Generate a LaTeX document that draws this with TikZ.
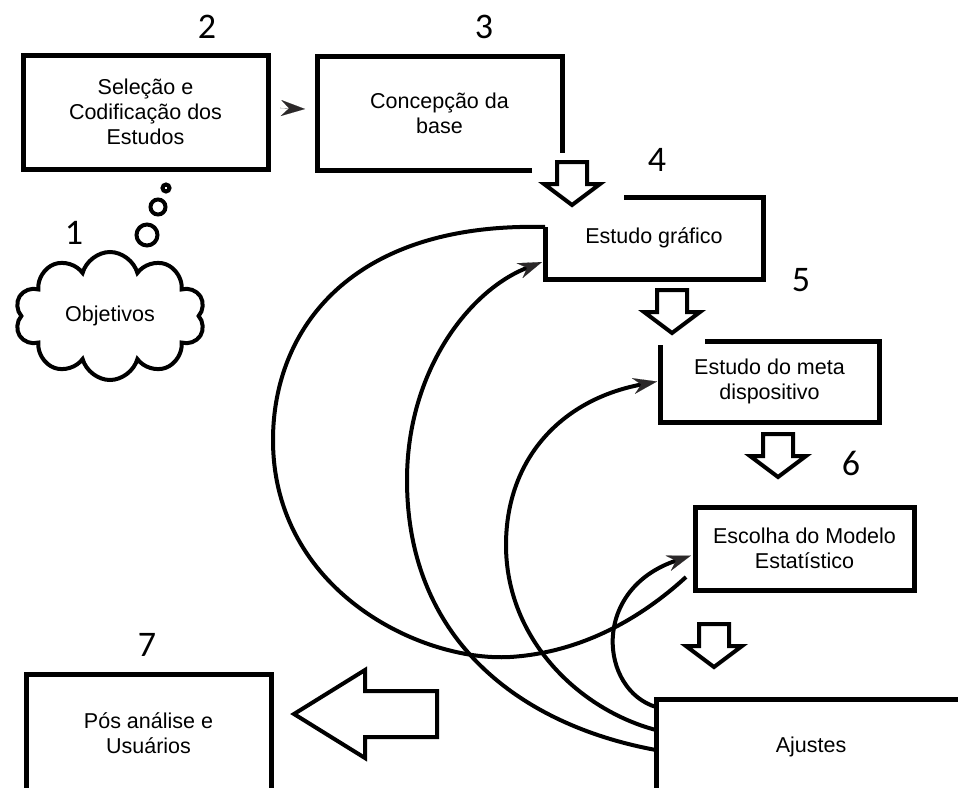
\documentclass[tikz,border=0pt]{standalone}
\usepackage{fontspec}
\setmainfont{Liberation Sans}
\newfontfamily\numfont{Carlito}
\usetikzlibrary{arrows.meta,shapes.symbols,calc}
\definecolor{tipgray}{HTML}{2B2829}

\tikzset{
  box/.style={draw, line width=5pt, outer sep=0pt, align=center, font=\fontsize{21.5}{25}\selectfont},
  openbox/.style={outer sep=0pt, align=center, font=\fontsize{21.5}{25}\selectfont},
  edge/.style={line width=5pt, line join=miter},
  back/.style={line width=4pt},
  tip/.style={-{Stealth[length=24pt,width=16pt,inset=8pt,line width=0.1pt,color=tipgray]}},
  hollow/.style={line width=4pt, line join=miter, fill=white},
  num/.style={inner sep=0pt, font=\numfont\fontsize{36}{36}\selectfont},
  downarr/.pic={\draw[hollow] (-15,0) -- (15,0) -- (15,22) -- (28,22) -- (0,43) -- (-28,22) -- (-15,22) -- cycle;}
}

\begin{document}
\begin{tikzpicture}[x=1pt, y=-1pt]
    \fill[white] (0,0) rectangle (958,787);
    \useasboundingbox (0,0) rectangle (958,787);

    % boxes
    \node[box, minimum width=245pt, minimum height=114pt] (sel) at (145.5,112) {Seleção e\\Codificação dos\\Estudos};
    \node[openbox, minimum width=245pt, minimum height=114pt] (conc) at (439.5,113) {Concepção da\\base};
    \node[openbox, minimum width=218pt, minimum height=82pt] (graf) at (654,238) {Estudo gráfico};
    \node[openbox, minimum width=219pt, minimum height=81pt] (meta) at (769.5,381.5) {Estudo do meta\\dispositivo};
    \node[box, minimum width=219pt, minimum height=83pt] (esc) at (804.5,548.5) {Escolha do Modelo\\Estatístico};
    \node[box, minimum width=310pt, minimum height=96pt, anchor=north west] (aj) at (656,699) {Ajustes};
    \node[box, minimum width=245pt, minimum height=118pt] (pos) at (148.5,733) {Pós análise e\\Usuários};

    \draw[edge] ([xshift=215pt]conc.south west) -- (conc.south west) -- (conc.north west) -- (conc.north east) -- ([yshift=17pt]conc.south east);
    \draw[edge] ([xshift=79pt]graf.north west) -- (graf.north east) -- (graf.south east) -- (graf.south west) -- ([yshift=-30pt]graf.north west);
    \draw[edge] ([xshift=45pt]meta.north west) -- (meta.north east) -- (meta.south east) -- (meta.south west) -- ([yshift=-4pt]meta.north west);

    % cloud
    \node[cloud, draw, line width=4pt, cloud puffs=10, aspect=1.45, minimum width=190pt, minimum height=128pt,
          font=\fontsize{21.5}{25}\selectfont] (obj) at (110,316) {Objetivos};
    \draw[back] (147,235) circle[radius=10.5pt];
    \draw[back] (158,207) circle[radius=7.5pt];
    \draw[back] (166,188) circle[radius=3.5pt];

    % numbers
    \node[num] (n1) at (74,233) {1};
    \node[num] (n2) at (207,27) {2};
    \node[num] (n3) at (484,27) {3};
    \node[num] (n4) at (657,160) {4};
    \node[num] (n5) at (801,280) {5};
    \node[num] (n6) at (851,463) {6};
    \node[num] (n7) at (147,645) {7};

    % flow
    \draw[tip, line width=0.1pt] ($(sel.east)+(12,-4)$) -- ($(conc.west)+(-12,-4)$);
    \pic at (572,162) {downarr};
    \pic at (672,290) {downarr};
    \pic at (778,434) {downarr};
    \pic at (714,624) {downarr};
    \draw[hollow] (437,691) -- (365,691) -- (365,670) -- (294,714) -- (365,758) -- (365,737) -- (437,737) -- cycle;

    % loops back from Ajustes
    \draw[back] ([yshift=-30pt]graf.north west) .. controls (350,222) and (273,330) .. (273,440)
        .. controls (273,590) and (420,662) .. (510,657)
        .. controls (590,652) and (650,610) .. ([xshift=-9pt,yshift=13pt]esc.south west);
    \draw[back, tip] ([yshift=-51pt]aj.north west) .. controls (520,725) and (407,640) .. (407,480)
        .. controls (407,370) and (470,290) .. ([xshift=-3pt,yshift=-24pt]graf.west);
    \draw[back, tip] ([yshift=-31pt]aj.north west) .. controls (580,710) and (506,640) .. (506,545)
        .. controls (506,460) and (560,400) .. ([xshift=-3pt]meta.west);
    \draw[back, tip] ([yshift=-8pt]aj.north west) .. controls (600,690) and (590,590) .. ([xshift=-4pt,yshift=-7pt]esc.west);

\end{tikzpicture}
\end{document}
